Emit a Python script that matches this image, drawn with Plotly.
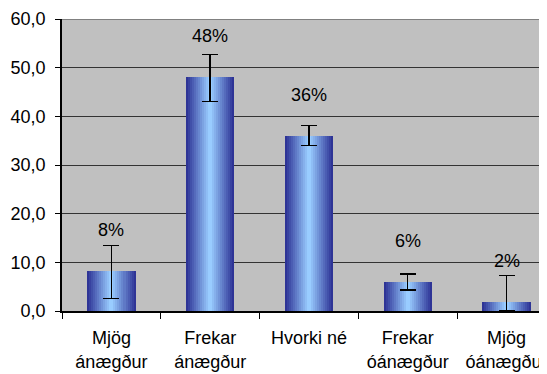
import plotly.graph_objects as go

# data
categories = ["Mjög<br>ánægður", "Frekar<br>ánægður", "Hvorki né", "Frekar<br>óánægður", "Mjög<br>óánægður"]
values = [8.2, 48.0, 36.0, 5.9, 1.8]
err_plus = [5.3, 4.7, 2.1, 1.7, 5.5]
err_minus = [5.6, 4.9, 2.0, 1.6, 1.8]
labels = ["8%", "48%", "36%", "6%", "2%"]
yticks = [0, 10, 20, 30, 40, 50, 60]

font_name = "Liberation Sans, Arial, sans-serif"
dark = (46, 52, 150)
light = (153, 204, 255)
bar_width = 0.49
layers = 12

fig = go.Figure()

# fake horizontal gradient: stacked narrowing bars, dark edge to light centre
for k in range(layers):
    t = k / (layers - 1)
    col = tuple(round(dark[i] + (light[i] - dark[i]) * t) for i in range(3))
    fig.add_trace(go.Bar(
        x=categories, y=values,
        width=bar_width * (1 - k / layers),
        marker=dict(color="rgb(%d,%d,%d)" % col, line=dict(width=0)),
        hoverinfo="skip", showlegend=False,
    ))

# error bars
fig.add_trace(go.Bar(
    x=categories, y=values, width=0.01,
    marker=dict(color="rgba(0,0,0,0)", line=dict(width=0)),
    error_y=dict(type="data", array=err_plus, arrayminus=err_minus,
                 color="black", thickness=1.5, width=8),
    showlegend=False,
))

for c, v, lab in zip(categories, values, labels):
    fig.add_annotation(x=c, y=v, text=lab, showarrow=False, yshift=41,
                       font=dict(family=font_name, size=18, color="black"))

# gray top border of plot area
fig.add_shape(type="line", xref="paper", yref="y", x0=0, x1=1, y0=60, y1=60,
              line=dict(color="#808080", width=2))

# page body has an 8px margin, so the figure is shifted; compensate here
fig.update_layout(
    width=539, height=366,
    margin=dict(l=54, r=0, t=11, b=63),
    paper_bgcolor="white", plot_bgcolor="#C0C0C0",
    barmode="overlay", bargap=0,
    separators=", ",
    font=dict(family=font_name, size=18, color="black"),
)
fig.update_xaxes(
    range=[-0.5, 4.41], type="category", automargin=False,
    showline=True, linecolor="black", linewidth=1.5,
    ticks="outside", tickson="boundaries", ticklen=6, tickcolor="black",
    showgrid=False, tickfont=dict(size=18), ticklabelstandoff=10,
)
fig.update_yaxes(
    range=[0, 60], tickvals=yticks, tickformat=".1f", automargin=False,
    showline=True, linecolor="black", linewidth=1.5,
    ticks="outside", ticklen=5, tickcolor="black",
    showgrid=True, gridcolor="#333333", gridwidth=1,
    zeroline=False, ticklabelstandoff=6, tickfont=dict(size=18),
)

fig.write_html("out.html")
